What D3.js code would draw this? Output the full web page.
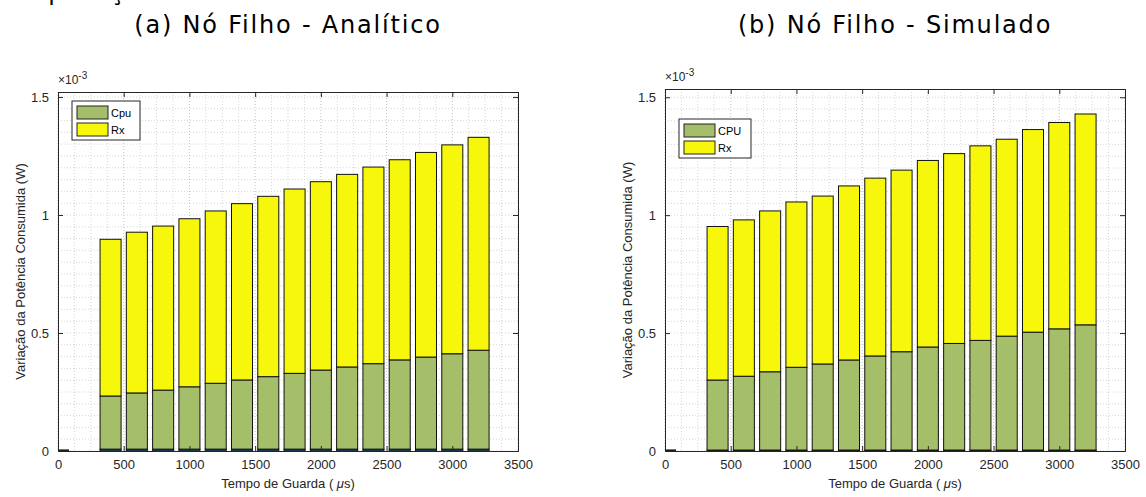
<!DOCTYPE html>
<html>
<head>
<meta charset="utf-8">
<script src="https://cdn.jsdelivr.net/npm/d3@7"></script>
<style>
  body { margin: 0; background: #fff; }
  .tick text { font-family: "Liberation Sans", Arial, sans-serif; font-size: 13px; fill: #262626; }
  .axisText { font-family: "Liberation Sans", Arial, sans-serif; font-size: 13px; fill: #262626; }
  .title { font-family: "DejaVu Sans", sans-serif; font-size: 24px; fill: #000; letter-spacing: 1.8px; }
  .legendText { font-family: "Liberation Sans", Arial, sans-serif; font-size: 11px; fill: #000; }
</style>
</head>
<body>
<div class="chart"></div>
<script>
var svgWidth = 1146;
var svgHeight = 497;

// guard times (us); the first bar sits at 0
var guardTimes = [0, 400, 600, 800, 1000, 1200, 1400, 1600, 1800, 2000, 2200, 2400, 2600, 2800, 3000, 3200];

// values in units of 1e-3 W
// (a) analytic
var baseA = [0.002, 0.008, 0.008, 0.008, 0.008, 0.008, 0.008, 0.008, 0.008, 0.008, 0.008, 0.008, 0.008, 0.008, 0.008, 0.008];
var cpuA = [0.001, 0.225, 0.238, 0.250, 0.264, 0.279, 0.293, 0.307, 0.321, 0.335, 0.348, 0.362, 0.378, 0.390, 0.404, 0.419];
var rxA = [0.001, 0.664, 0.681, 0.695, 0.712, 0.730, 0.747, 0.764, 0.781, 0.798, 0.816, 0.833, 0.848, 0.867, 0.885, 0.902];

// (b) simulated
var baseB = [0.002, 0.004, 0.004, 0.004, 0.004, 0.004, 0.004, 0.004, 0.004, 0.004, 0.004, 0.004, 0.004, 0.004, 0.004, 0.004];
var cpuB = [0.001, 0.297, 0.313, 0.332, 0.351, 0.365, 0.382, 0.399, 0.417, 0.437, 0.452, 0.465, 0.483, 0.500, 0.514, 0.531];
var rxB = [0.001, 0.651, 0.663, 0.682, 0.701, 0.712, 0.738, 0.754, 0.770, 0.791, 0.805, 0.825, 0.835, 0.859, 0.875, 0.894];

var xTicks = [0, 500, 1000, 1500, 2000, 2500, 3000, 3500];
var yTicks = [0, 0.5, 1, 1.5];

var svg = d3.select(".chart")
    .append("svg")
    .attr("width", svgWidth)
    .attr("height", svgHeight);

// cut-off heading at the very top of the page
svg.append("text")
    .attr("class", "title")
    .attr("x", -12)
    .attr("y", 0)
    .text("Comparação");

function drawPanel(p) {
    var width = p.right - p.left;
    var height = p.bottom - p.top;

    var chart = svg.append("g")
        .attr("transform", "translate(" + p.left + "," + p.top + ")");

    var xScale = d3.scaleLinear().domain([0, 3500]).range([0, width]);
    var yScale = d3.scaleLinear().domain([0, p.yMax]).range([height, 0]);

    // dotted grid, minor and major
    var xMinor = d3.range(0, 3501, 125);
    var yMinor = d3.range(0, p.yMax, 0.05);
    chart.append("g").selectAll("line")
        .data(xMinor)
        .enter().append("line")
        .attr("x1", d => xScale(d)).attr("x2", d => xScale(d))
        .attr("y1", 0).attr("y2", height)
        .attr("stroke", d => d % 500 == 0 ? "#c0c0c0" : "#d6d6d6")
        .attr("stroke-dasharray", "1,2");
    chart.append("g").selectAll("line")
        .data(yMinor)
        .enter().append("line")
        .attr("x1", 0).attr("x2", width)
        .attr("y1", d => yScale(d)).attr("y2", d => yScale(d))
        .attr("stroke", "#d6d6d6")
        .attr("stroke-dasharray", "1,2");

    // stacked bars
    var rows = guardTimes.map((t, i) => ({ t: t, base: p.base[i], cpu: p.cpu[i], rx: p.rx[i] }));
    var stack = d3.stack().keys(["base", "cpu", "rx"]);
    var layers = stack(rows);
    var colors = { base: p.baseColor, cpu: "#a5be69", rx: "#f7f70c" };
    var barW = xScale(160) - xScale(0);

    var clipId = "clip" + p.id;
    chart.append("clipPath").attr("id", clipId)
        .append("rect").attr("width", width).attr("height", height);

    var bars = chart.append("g").attr("clip-path", "url(#" + clipId + ")");
    bars.selectAll("g")
        .data(layers)
        .enter().append("g")
        .attr("fill", d => colors[d.key])
        .selectAll("rect")
        .data(d => d)
        .enter().append("rect")
        .attr("x", d => xScale(d.data.t) - barW / 2)
        .attr("width", barW)
        .attr("y", d => yScale(d[1]))
        .attr("height", d => yScale(d[0]) - yScale(d[1]))
        .attr("stroke", "#111")
        .attr("stroke-width", 1);

    // axes, ticks pointing inwards, box on
    var bottomAxis = d3.axisBottom(xScale).tickValues(xTicks).tickSize(-5).tickPadding(9).tickFormat(d3.format("d"));
    var leftAxis = d3.axisLeft(yScale).tickValues(yTicks).tickSize(-5).tickPadding(9).tickFormat(d3.format("~g"));
    var topAxis = d3.axisTop(xScale).tickValues(xTicks).tickSize(-5).tickFormat("");
    var rightAxis = d3.axisRight(yScale).tickValues(yTicks).tickSize(-5).tickFormat("");

    var axes = [
        chart.append("g").attr("transform", "translate(0," + height + ")").call(bottomAxis),
        chart.append("g").call(leftAxis),
        chart.append("g").call(topAxis),
        chart.append("g").attr("transform", "translate(" + width + ",0)").call(rightAxis)
    ];
    axes.forEach(a => {
        a.select(".domain").attr("stroke", "#262626");
        a.selectAll(".tick line").attr("stroke", "#262626");
    });

    // exponent label
    var expo = chart.append("text")
        .attr("class", "axisText")
        .attr("x", 0)
        .attr("y", -8)
        .style("font-size", "12px");
    expo.append("tspan").text("×10");
    expo.append("tspan").attr("dy", -5).style("font-size", "10px").text("-3");

    // axis labels
    chart.append("text")
        .attr("class", "axisText")
        .attr("transform", "rotate(-90)")
        .attr("x", -height / 2)
        .attr("y", -33)
        .attr("text-anchor", "middle")
        .text("Variação da Potência Consumida (W)");

    var xl = chart.append("text")
        .attr("class", "axisText")
        .attr("x", width / 2)
        .attr("y", height + 37)
        .attr("text-anchor", "middle");
    xl.append("tspan").text("Tempo de Guarda ( ");
    xl.append("tspan").style("font-style", "italic").text("μ");
    xl.append("tspan").text("s)");

    // title
    svg.append("text")
        .attr("class", "title")
        .attr("x", p.left + width / 2)
        .attr("y", 33)
        .attr("text-anchor", "middle")
        .text(p.title);

    // legend
    var lg = chart.append("g").attr("transform", "translate(" + p.legX + "," + p.legY + ")");
    lg.append("rect")
        .attr("width", p.legW).attr("height", 39)
        .attr("fill", "#fff").attr("stroke", "#262626");
    [["cpu", p.cpuName], ["rx", "Rx"]].forEach((e, i) => {
        lg.append("rect")
            .attr("x", 5).attr("y", 5 + i * 17)
            .attr("width", 31).attr("height", 13)
            .attr("fill", colors[e[0]]).attr("stroke", "#222");
        lg.append("text")
            .attr("class", "legendText")
            .attr("x", 39).attr("y", 16 + i * 17)
            .text(e[1]);
    });
}

drawPanel({
    id: "a", left: 58, right: 518, top: 92, bottom: 451, yMax: 1.521,
    base: baseA, cpu: cpuA, rx: rxA, baseColor: "#1d5e8a",
    title: "(a) Nó Filho - Analítico", cpuName: "Cpu",
    legX: 14, legY: 9, legW: 68
});

drawPanel({
    id: "b", left: 665, right: 1125, top: 89, bottom: 451, yMax: 1.535,
    base: baseB, cpu: cpuB, rx: rxB, baseColor: "#222",
    title: "(b) Nó Filho - Simulado", cpuName: "CPU",
    legX: 14, legY: 30, legW: 72
});
</script>
</body>
</html>
